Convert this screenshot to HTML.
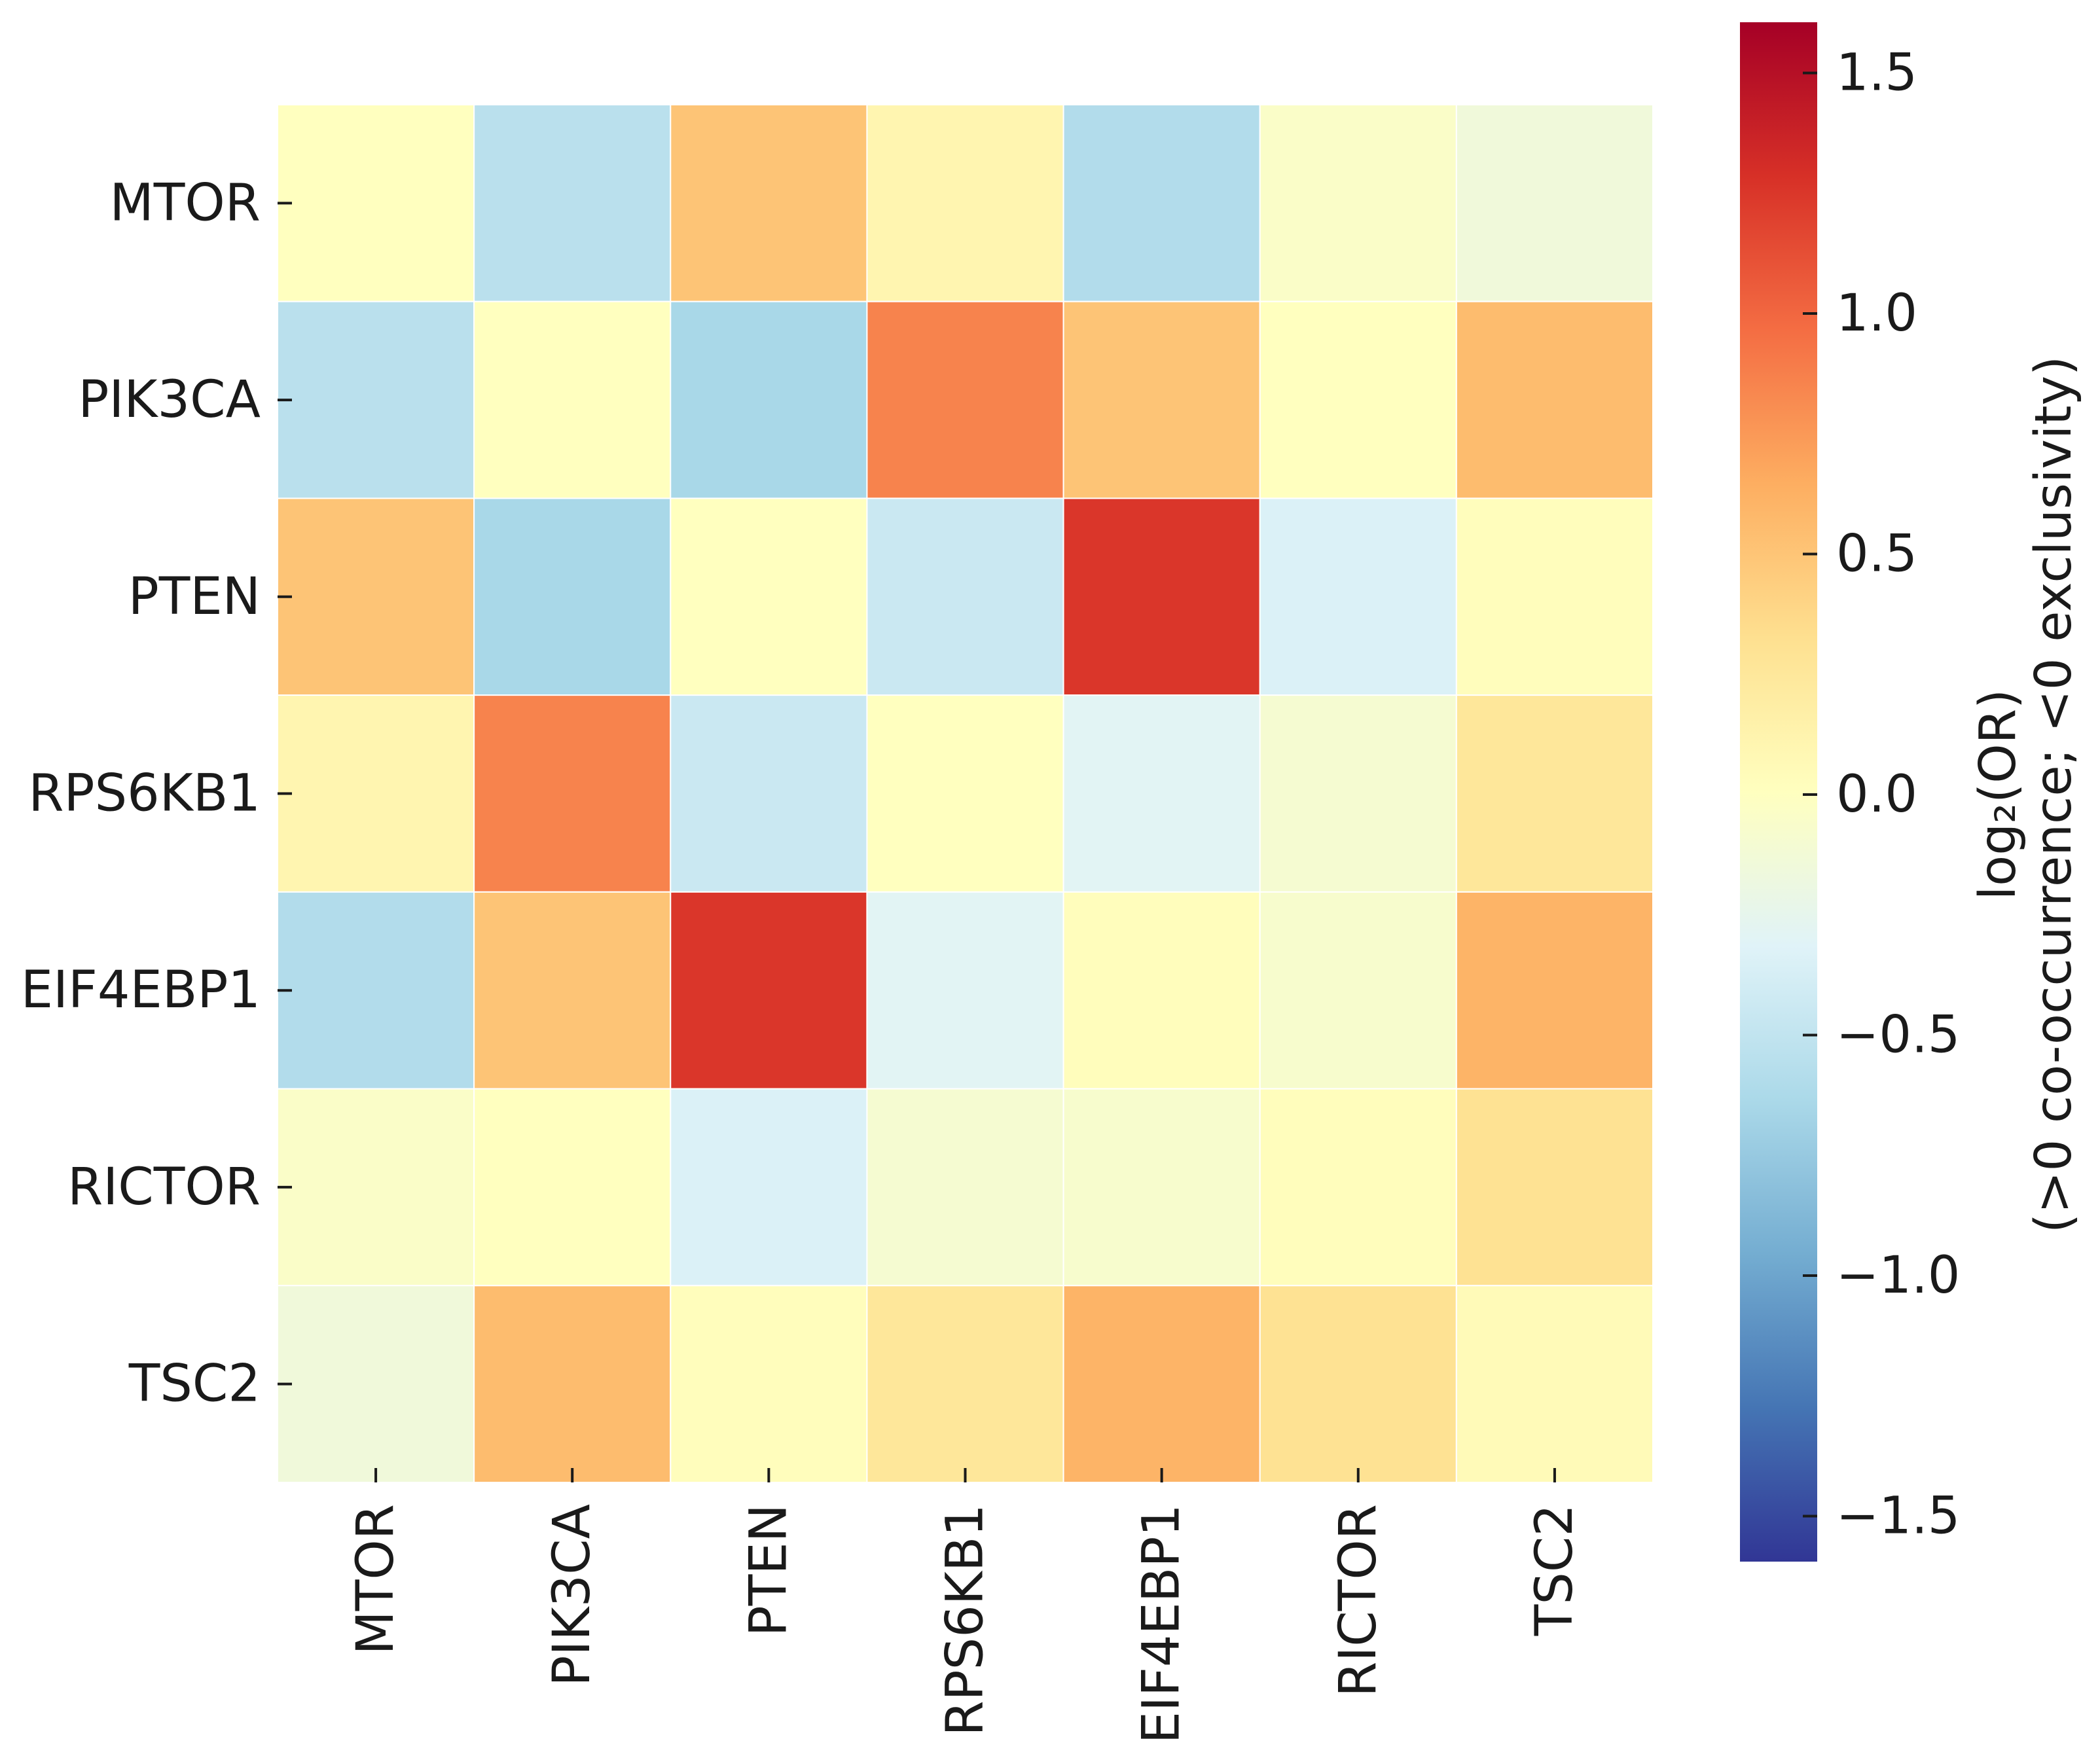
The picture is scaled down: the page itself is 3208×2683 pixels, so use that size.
<!DOCTYPE html>
<html><head><meta charset="utf-8"><style>
html,body{margin:0;padding:0;background:#fff;}
svg{display:block;font-family:"DejaVu Sans","Liberation Sans",sans-serif;}
</style></head><body>
<svg id="chart" width="3208" height="2683" viewBox="0 0 3208 2683" xmlns="http://www.w3.org/2000/svg">
<defs>
<linearGradient id="cbgrad" x1="0" y1="1" x2="0" y2="0">
<stop offset="0" stop-color="#313695"/><stop offset="0.1" stop-color="#4575b4"/><stop offset="0.2" stop-color="#74add1"/><stop offset="0.3" stop-color="#abd9e9"/><stop offset="0.4" stop-color="#e0f3f8"/><stop offset="0.5" stop-color="#ffffbf"/><stop offset="0.6" stop-color="#fee090"/><stop offset="0.7" stop-color="#fdae61"/><stop offset="0.8" stop-color="#f46d43"/><stop offset="0.9" stop-color="#d73027"/><stop offset="1" stop-color="#a50026"/>
</linearGradient>
</defs>
<g id="cells"></g>
<g id="axes"></g>
<rect x="2658" y="34" width="118" height="2352" fill="url(#cbgrad)"/>
<g id="cbticks"></g>
<text transform="translate(3078,1214) rotate(-90)" text-anchor="middle" font-size="77" fill="#1a1a1a">log₂(OR)</text>
<text transform="translate(3163,1214) rotate(-90)" text-anchor="middle" font-size="77" fill="#1a1a1a">(&gt;0 co-occurrence; &lt;0 exclusivity)</text>
</svg>
<script>
const genes = ["MTOR","PIK3CA","PTEN","RPS6KB1","EIF4EBP1","RICTOR","TSC2"];
const row0 = [0, -0.55, 0.5, 0.1, -0.6, -0.05, -0.15];
const row1 = [-0.55, 0, -0.65, 0.85, 0.5, 0, 0.55];
const row2 = [0.5, -0.65, 0, -0.45, 1.25, -0.35, 0.02];
const row3 = [0.1, 0.85, -0.45, 0, -0.3, -0.1, 0.25];
const row4 = [-0.6, 0.5, 1.25, -0.3, 0.02, -0.08, 0.6];
const row5 = [-0.05, 0, -0.35, -0.1, -0.08, 0.02, 0.3];
const row6 = [-0.15, 0.55, 0.02, 0.25, 0.6, 0.3, 0.05];
const matrix = [row0,row1,row2,row3,row4,row5,row6];
const cbTicks = [1.5, 1.0, 0.5, 0.0, -0.5, -1.0, -1.5];
const cbTickLabels = ["1.5","1.0","0.5","0.0","−0.5","−1.0","−1.5"];
const vmin = -1.6, vmax = 1.6;

const NS = "http://www.w3.org/2000/svg";
const X0 = 424, X1 = 2525, Y0 = 160, Y1 = 2265;
const cw = (X1 - X0) / genes.length, ch = (Y1 - Y0) / genes.length;
const xPos = i => X0 + i * cw;
const yPos = i => Y0 + i * ch;
const cbY = v => 38 + (vmax - v) / (vmax - vmin) * 2352;

const stops = ["#313695","#4575b4","#74add1","#abd9e9","#e0f3f8","#ffffbf","#fee090","#fdae61","#f46d43","#d73027","#a50026"].map(h => [parseInt(h.slice(1,3),16),parseInt(h.slice(3,5),16),parseInt(h.slice(5,7),16)]);
function color(v){
  let t = (v - vmin) / (vmax - vmin); t = Math.max(0, Math.min(1, t));
  const p = t * 10, i = Math.min(9, Math.floor(p)), f = p - i;
  const c = stops[i].map((a, k) => Math.round(a + (stops[i+1][k] - a) * f));
  return `rgb(${c[0]},${c[1]},${c[2]})`;
}
function mk(tag, attrs, parent){
  const e = document.createElementNS(NS, tag);
  for (const k in attrs) e.setAttribute(k, attrs[k]);
  parent.appendChild(e); return e;
}
const cells = document.getElementById('cells');
matrix.forEach((row, r) => row.forEach((v, c) => {
  const el = mk('rect', {x: xPos(c), y: yPos(r), width: cw, height: ch, fill: color(v), stroke: '#fff', 'stroke-width': 2}, cells);
  
  
}));
const axes = document.getElementById('axes');
genes.forEach((g, i) => {
  const cy = yPos(i) + ch / 2;
  const t1 = mk('line', {x1: X0, x2: X0 + 22, y1: cy, y2: cy, stroke: '#1a1a1a', 'stroke-width': 4}, axes);
  
  
  const l1 = mk('text', {x: 398, y: cy, 'text-anchor': 'end', 'dominant-baseline': 'central', 'font-size': 78, fill: '#1a1a1a'}, axes);
  l1.textContent = g;
  
  
  const cx = xPos(i) + cw / 2;
  const t2 = mk('line', {x1: cx, x2: cx, y1: Y1 - 22, y2: Y1, stroke: '#1a1a1a', 'stroke-width': 4}, axes);
  
  
  const l2 = mk('text', {transform: `translate(${cx},2298) rotate(-90)`, 'text-anchor': 'end', 'dominant-baseline': 'central', 'font-size': 78, fill: '#1a1a1a'}, axes);
  l2.textContent = g;
  
  
});
const cbt = document.getElementById('cbticks');
cbTicks.forEach((v, i) => {
  const y = cbY(v);
  const t = mk('line', {x1: 2754, x2: 2776, y1: y, y2: y, stroke: '#1a1a1a', 'stroke-width': 4}, cbt);
  
  
  const l = mk('text', {x: 2805, y: y, 'dominant-baseline': 'central', 'font-size': 78, fill: '#1a1a1a'}, cbt);
  l.textContent = cbTickLabels[i];
  
  
});
</script>
</body></html>
